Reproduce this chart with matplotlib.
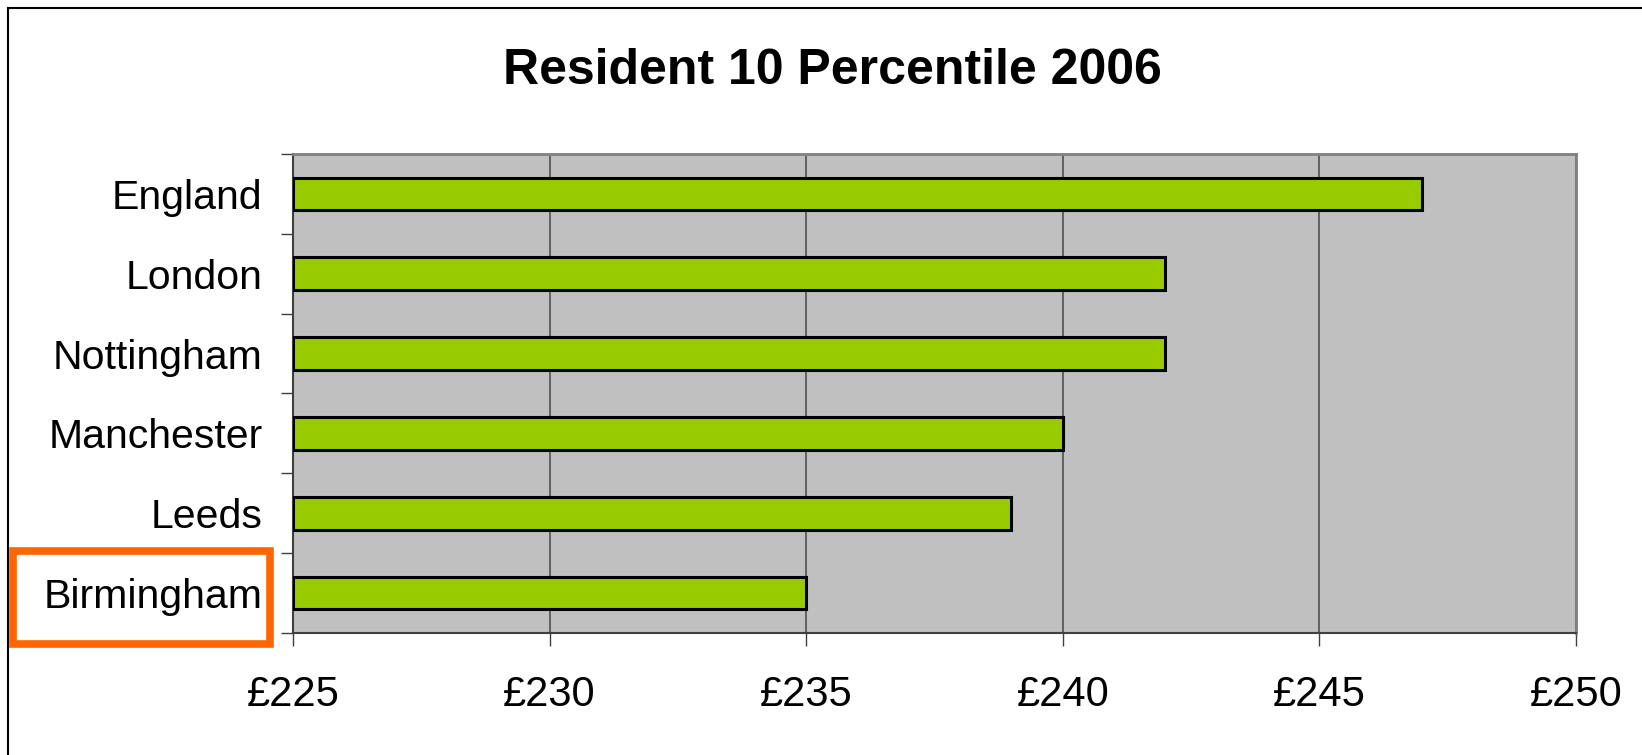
import matplotlib
matplotlib.use('Agg')
import matplotlib.pyplot as plt
from matplotlib.patches import Rectangle
import numpy as np

# Data
places = ['Birmingham', 'Leeds', 'Manchester', 'Nottingham', 'London', 'England']
values = [235, 239, 240, 242, 242, 247]
x_ticks = [225, 230, 235, 240, 245, 250]
x_labels = ['£225', '£230', '£235', '£240', '£245', '£250']

plt.rcParams['font.family'] = ['Liberation Sans', 'DejaVu Sans']

W, H = 1642, 755
fig = plt.figure(figsize=(W / 100, H / 100), dpi=100)
ax = fig.add_axes([293 / W, 1 - 633 / H, (1576 - 293) / W, (633 - 154) / H])

y = np.arange(len(places))
ax.barh(y, np.array(values) - 225, left=225, height=0.41,
        color='#99CC00', edgecolor='black', linewidth=2.2, zorder=3)

ax.set_facecolor('#C0C0C0')
ax.set_xlim(225, 250)
ax.set_ylim(-0.5, len(places) - 0.5)

ax.set_xticks(x_ticks)
ax.set_xticklabels(x_labels, fontsize=30)
ax.tick_params(axis='x', length=9, width=1, color='#404040', pad=21)

ax.set_yticks(y)
ax.set_yticklabels(places, fontsize=29.5)
ax.set_yticks(np.arange(len(places) + 1) - 0.5, minor=True)
ax.tick_params(axis='y', which='major', length=0, pad=22)
ax.tick_params(axis='y', which='minor', length=9, width=1, color='#404040')

ax.grid(axis='x', color='#505050', linewidth=1.2, zorder=1)

for side in ['top', 'right']:
    ax.spines[side].set_color('#808080')
    ax.spines[side].set_linewidth(2)
for side in ['left', 'bottom']:
    ax.spines[side].set_color('#404040')
    ax.spines[side].set_linewidth(1.5)

fig.text(832 / W, 1 - 71 / H, 'Resident 10 Percentile 2006', fontsize=36,
         fontweight='bold', ha='center', va='center')

# outer chart frame
fig.patches.append(Rectangle((8 / W, -0.1), 1.2, 1 - 8 / H + 0.1,
                             transform=fig.transFigure, fill=False,
                             edgecolor='black', linewidth=1.5))

# highlight box round Birmingham
fig.patches.append(Rectangle((13 / W, 1 - 644 / H), (270 - 13) / W, (644 - 551) / H,
                             transform=fig.transFigure, fill=False,
                             edgecolor='#FF6600', linewidth=5.5, zorder=5))

fig.savefig('out.png', dpi=100)
